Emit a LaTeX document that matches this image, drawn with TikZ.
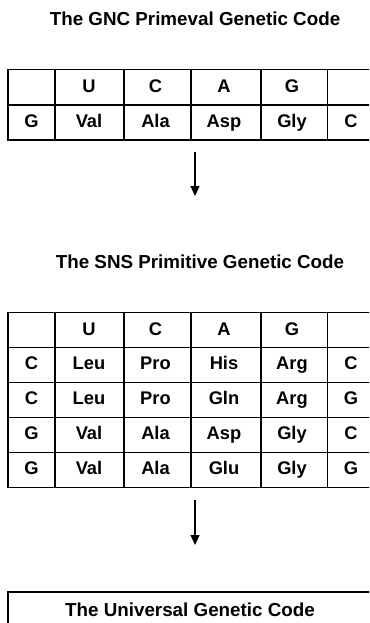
\documentclass[tikz,border=0pt]{standalone}
\usepackage{fontspec}
\setmainfont{Liberation Sans}
\usetikzlibrary{arrows.meta}
\tikzset{
  titletext/.style={font=\fontsize{18.8}{22}\selectfont\bfseries, anchor=base, inner sep=0pt},
  celltext/.style={font=\fontsize{18.3}{21}\selectfont\bfseries, anchor=base, inner sep=0pt},
  gridline/.style={line width=1.3pt, black},
  flowarrow/.style={line width=1.1pt, -{Triangle[length=10pt,width=9pt]}},
}
\begin{document}
\begin{tikzpicture}[x=1pt,y=-1pt]
\useasboundingbox (0,0) rectangle (369,623);
\clip (0,0) rectangle (369,623);
\fill[white] (0,0) rectangle (369,623);

% Titles
\node[titletext] (t1) at (195,26) {The GNC Primeval Genetic Code};
\node[titletext] (t2) at (200,268.4) {The SNS Primitive Genetic Code};

% GNC table
\draw[gridline] (8,69.5) rectangle (375,140);
\draw[gridline] (8,105) -- (375,105);
\foreach \x in {55,124,191,261,327.5} \draw[gridline] (\x,69.5) -- (\x,140);
\foreach \t [count=\i] in {U,C,A,G} {
  \pgfmathsetmacro{\cx}{{31.5,89,155.5,224,292,351}[\i]}
  \node[celltext] (g0\i) at (\cx,92.5) {\t};
}
\foreach \t [count=\i from 0] in {G,Val,Ala,Asp,Gly,C} {
  \pgfmathsetmacro{\cx}{{31.5,89,155.5,224,292,351}[\i]}
  \node[celltext] (g1\i) at (\cx,127.5) {\t};
}

% Arrow 1
\coordinate (a1s) at (195,152);
\coordinate (a1e) at (195,196);
\draw[flowarrow] (a1s) -- (a1e);

% SNS table
\draw[gridline] (8,312.5) rectangle (375,487.5);
\foreach \y in {347.5,382.5,417.5,452.5} \draw[gridline] (8,\y) -- (375,\y);
\foreach \x in {55,124,191,261,327.5} \draw[gridline] (\x,312.5) -- (\x,487.5);
\foreach \t [count=\i] in {U,C,A,G} {
  \pgfmathsetmacro{\cx}{{31.5,89,155.5,224,292,351}[\i]}
  \node[celltext] (s0\i) at (\cx,335) {\t};
}
\foreach \row [count=\r] in {{C,Leu,Pro,His,Arg,C},{C,Leu,Pro,Gln,Arg,G},{G,Val,Ala,Asp,Gly,C},{G,Val,Ala,Glu,Gly,G}} {
  \pgfmathsetmacro{\cy}{312.5+35*\r+22}
  \foreach \t [count=\i from 0] in \row {
    \pgfmathsetmacro{\cx}{{31.5,89,155.5,224,292,351}[\i]}
    \node[celltext] (s\r\i) at (\cx,\cy) {\t};
  }
}

% Arrow 2
\coordinate (a2s) at (195,500);
\coordinate (a2e) at (195,545);
\draw[flowarrow] (a2s) -- (a2e);

% Universal box
\draw[gridline] (8,592) rectangle (380,650);
\node[titletext] (t3) at (190,616.7) {The Universal Genetic Code};
\end{tikzpicture}
\end{document}
